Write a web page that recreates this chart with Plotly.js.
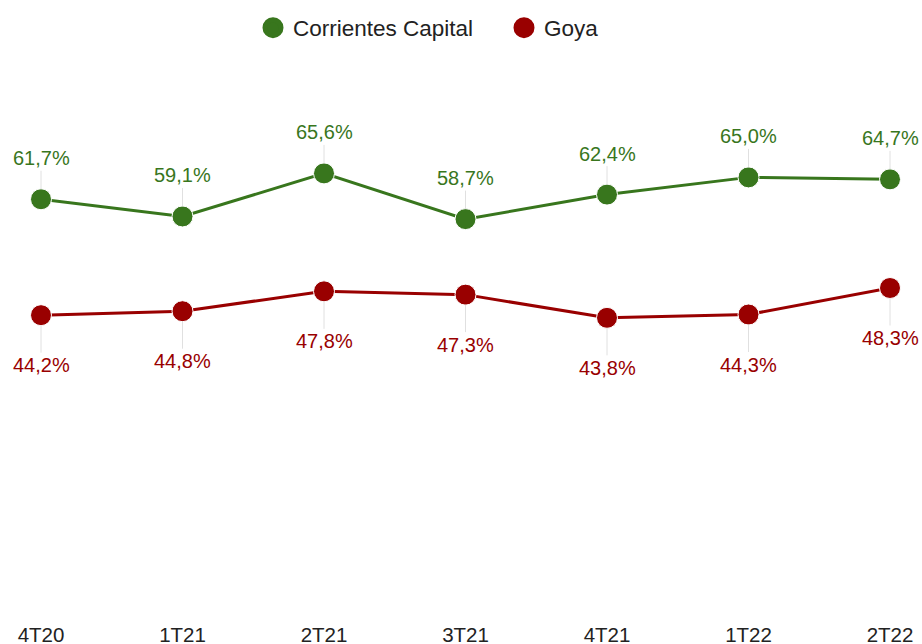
<!DOCTYPE html>
<html>
<head>
<meta charset="utf-8">
<script src="https://cdn.plot.ly/plotly-3.0.1.min.js"></script>
<style>html,body{margin:0;padding:0;background:#fff;}#chart{width:922px;height:644px;}</style>
</head>
<body>
<div id="chart"></div>
<script>
const categories = ["4T20", "1T21", "2T21", "3T21", "4T21", "1T22", "2T22"];
const capital = [61.7, 59.1, 65.6, 58.7, 62.4, 65.0, 64.7];
const goya = [44.2, 44.8, 47.8, 47.3, 43.8, 44.3, 48.3];
const seriesNames = ["Corrientes Capital", "Goya"];
const green = "#38761d";
const red = "#990000";
const FONT = "Liberation Sans, Arial, sans-serif";

function fmt(v) { return v.toFixed(1).replace(".", ",") + "%"; }

const traces = [
  {x: categories, y: capital, name: seriesNames[0], type: "scatter", mode: "lines+markers", showlegend: false,
   cliponaxis: false, line: {color: green, width: 3}, marker: {color: green, size: 21, line: {color: "#ffffff", width: 1}}},
  {x: categories, y: goya, name: seriesNames[1], type: "scatter", mode: "lines+markers", showlegend: false,
   cliponaxis: false, line: {color: red, width: 3}, marker: {color: red, size: 21, line: {color: "#ffffff", width: 1}}},
  {x: [null], y: [null], name: seriesNames[0], type: "scatter", mode: "markers",
   marker: {color: green, size: 16, line: {color: green, width: 5}}},
  {x: [null], y: [null], name: seriesNames[1], type: "scatter", mode: "markers",
   marker: {color: red, size: 16, line: {color: red, width: 5}}}
];

const annotations = [];
categories.forEach((c, i) => {
  annotations.push({x: c, y: capital[i], text: fmt(capital[i]), showarrow: true, arrowhead: 0,
    arrowwidth: 1, arrowcolor: "#e0e0e0", ax: 0, ay: -41, standoff: 10,
    font: {family: FONT, size: 20, color: green}});
  annotations.push({x: c, y: goya[i], text: fmt(goya[i]), showarrow: true, arrowhead: 0,
    arrowwidth: 1, arrowcolor: "#e0e0e0", ax: 0, ay: 50, standoff: 10,
    font: {family: FONT, size: 20, color: red}});
});

const layout = {
  width: 922, height: 644,
  margin: {l: 41, r: 32, t: 78, b: 36},
  paper_bgcolor: "#ffffff", plot_bgcolor: "#ffffff",
  showlegend: true,
  legend: {orientation: "h", x: 253 / 922, xanchor: "left", xref: "container",
    y: 1 - 28 / 644, yref: "container", yanchor: "middle",
    font: {family: FONT, size: 22.5, color: "#222222"}, itemsizing: "trace", entrywidth: 206},
  xaxis: {type: "category", range: [0, 6], showgrid: false, zeroline: false, showline: false,
    ticks: "", ticklabelstandoff: 12, tickfont: {family: FONT, size: 20.5, color: "#222222"}},
  yaxis: {range: [0, 80], showgrid: false, zeroline: false, showline: false, showticklabels: false},
  annotations: annotations
};

Plotly.newPlot("chart", traces, layout, {displayModeBar: false, staticPlot: true});
</script>
</body>
</html>
